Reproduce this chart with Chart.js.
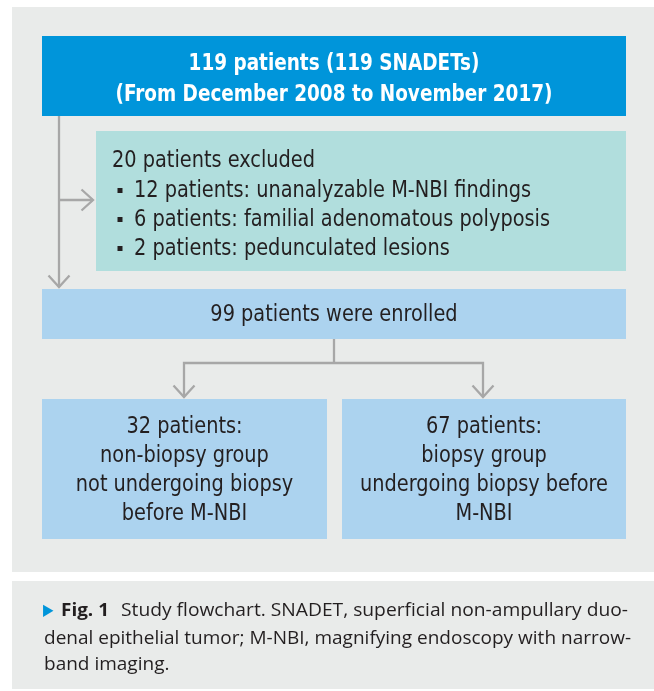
<!DOCTYPE html>
<html>
<head>
<meta charset="utf-8">
<script src="https://cdn.jsdelivr.net/npm/chart.js@4/dist/chart.umd.min.js"></script>
<style>
  html, body { margin: 0; padding: 0; background: #ffffff; }
  #wrap { width: 654px; height: 691px; }
</style>
</head>
<body>
<div id="wrap"><canvas id="flow" width="654" height="691"></canvas></div>
<script>
// ───────── flowchart data ─────────
const topLines = ['119 patients (119 SNADETs)', '(From December 2008 to November 2017)'];
const excludedTitle = '20 patients excluded';
const excludedItems = [
    '12 patients: unanalyzable M-NBI findings',
    '6 patients: familial adenomatous polyposis',
    '2 patients: pedunculated lesions'
];
const enrolledText = '99 patients were enrolled';
const leftGroupLines = ['32 patients:', 'non-biopsy group', 'not undergoing biopsy', 'before M-NBI'];
const rightGroupLines = ['67 patients:', 'biopsy group', 'undergoing biopsy before', 'M-NBI'];
const captionLabel = 'Fig. 1';
const captionLines = [
    'Study flowchart. SNADET, superficial non-ampullary duo-',
    'denal epithelial tumor; M-NBI, magnifying endoscopy with narrow-',
    'band imaging.'
];

// ───────── layout (picture units) ─────────
const C = {
    panel: '#e9ebea', top: '#0095da', teal: '#b1dedd', blue: '#acd3ef',
    line: '#a7a7a7', text: '#231f20', white: '#ffffff'
};
const FONT = '"Liberation Sans Narrow", "DejaVu Sans Condensed", "Liberation Sans", sans-serif';
const CAPFONT = '"Open Sans", "Noto Sans", sans-serif';

const boxes = [
    { x0: 12, y0: 7, x1: 654, y1: 572, color: C.panel },
    { x0: 12, y0: 581, x1: 654, y1: 689, color: C.panel },
    { x0: 42, y0: 36, x1: 626, y1: 116, color: C.top },
    { x0: 96, y0: 131, x1: 626, y1: 271, color: C.teal },
    { x0: 42, y0: 289, x1: 626, y1: 339, color: C.blue },
    { x0: 42, y0: 399, x1: 327, y1: 539, color: C.blue },
    { x0: 342, y0: 399, x1: 626, y1: 539, color: C.blue }
];

// connector paths
const connectors = [
    [{ x: 59, y: 116 }, { x: 59, y: 287 }],
    [{ x: 59, y: 200 }, { x: 93, y: 200 }],
    [{ x: 334, y: 339 }, { x: 334, y: 363 }],
    [{ x: 184, y: 397 }, { x: 184, y: 363 }, { x: 483, y: 363 }, { x: 483, y: 397 }]
];
// arrow tips: position and direction
const arrowTips = [
    { x: 59, y: 287, dir: 'down' },
    { x: 93, y: 200, dir: 'right' },
    { x: 184, y: 397, dir: 'down' },
    { x: 483, y: 397, dir: 'down' }
];

function chevron(t) {
    const a = 10.5, b = 11.5;
    if (t.dir === 'down') return [{ x: t.x - a, y: t.y - b }, { x: t.x, y: t.y }, { x: t.x + a, y: t.y - b }];
    return [{ x: t.x - b, y: t.y - a }, { x: t.x, y: t.y }, { x: t.x - b, y: t.y + a }];
}

const lineStyle = { type: 'line', showLine: true, pointRadius: 0, borderColor: C.line, borderWidth: 2.3, fill: false, tension: 0 };
const datasets = connectors.map(p => ({ ...lineStyle, data: p }))
    .concat(arrowTips.map(t => ({ ...lineStyle, data: chevron(t), borderJoinStyle: 'miter' })));

// 텍스트 폭 맞춤
function fitScale(ctx, font, text, target) {
    ctx.save();
    ctx.font = font;
    const w = ctx.measureText(text).width;
    ctx.restore();
    return target / w;
}

function drawText(ctx, text, x, y, font, color, align, sx) {
    ctx.save();
    ctx.font = font;
    ctx.fillStyle = color;
    ctx.textAlign = align;
    ctx.textBaseline = 'middle';
    ctx.translate(x, y);
    ctx.scale(sx, 1);
    ctx.fillText(text, 0, 0);
    ctx.restore();
}

const flowPlugin = {
    id: 'flowBoxes',
    beforeDatasetsDraw(chart) {
        const { ctx, scales: { x, y } } = chart;
        boxes.forEach(b => {
            const px0 = x.getPixelForValue(b.x0), px1 = x.getPixelForValue(b.x1);
            const py0 = y.getPixelForValue(b.y0), py1 = y.getPixelForValue(b.y1);
            ctx.fillStyle = b.color;
            ctx.fillRect(px0, py0, px1 - px0, py1 - py0);
        });
    },
    afterDatasetsDraw(chart) {
        const { ctx, scales: { x, y } } = chart;
        const X = v => x.getPixelForValue(v), Y = v => y.getPixelForValue(v);

        // 상단 박스
        const boldFont = 'bold 23px ' + FONT;
        const sTop = fitScale(ctx, boldFont, topLines[1], 437);
        drawText(ctx, topLines[0], X(334), Y(64), boldFont, C.white, 'center', sTop);
        drawText(ctx, topLines[1], X(334), Y(95), boldFont, C.white, 'center', sTop);

        // 제외 박스
        const bodyFont = '23px ' + FONT;
        const sBody = fitScale(ctx, bodyFont, excludedItems[1], 416);
        drawText(ctx, excludedTitle, X(112), Y(161), bodyFont, C.text, 'left', sBody);
        excludedItems.forEach((t, i) => {
            const yy = 190 + i * 29;
            ctx.fillStyle = C.text;
            ctx.fillRect(X(117.5), Y(yy - 2), 5, 5);
            drawText(ctx, t, X(134), Y(yy + 1), bodyFont, C.text, 'left', sBody);
        });

        drawText(ctx, enrolledText, X(334), Y(315), bodyFont, C.text, 'center', sBody);

        leftGroupLines.forEach((t, i) => drawText(ctx, t, X(184.5), Y(427 + i * 29), bodyFont, C.text, 'center', sBody));
        rightGroupLines.forEach((t, i) => drawText(ctx, t, X(484), Y(427 + i * 29), bodyFont, C.text, 'center', sBody));

        // 캡션
        const capFont = '18px ' + CAPFONT;
        const capBold = 'bold 18px ' + CAPFONT;
        drawText(ctx, '\u25B6', X(43), Y(611), '16px "DejaVu Sans", sans-serif', C.top, 'left', 0.85);
        const sLabel = fitScale(ctx, capBold, captionLabel, 48);
        drawText(ctx, captionLabel, X(61), Y(611), capBold, C.text, 'left', sLabel);
        const s1 = fitScale(ctx, capFont, captionLines[0], 628 - 121);
        drawText(ctx, captionLines[0], X(121), Y(611), capFont, C.text, 'left', s1);
        const s2 = fitScale(ctx, capFont, captionLines[1], 631 - 44);
        drawText(ctx, captionLines[1], X(44), Y(639), capFont, C.text, 'left', s2);
        drawText(ctx, captionLines[2], X(44), Y(665), capFont, C.text, 'left', s2);
    }
};

new Chart(document.getElementById('flow').getContext('2d'), {
    type: 'scatter',
    data: { datasets },
    options: {
        responsive: false,
        animation: false,
        devicePixelRatio: 1,
        layout: { padding: 0 },
        plugins: { legend: { display: false }, tooltip: { enabled: false } },
        scales: {
            x: { type: 'linear', min: 0, max: 654, display: false },
            y: { type: 'linear', min: 0, max: 691, reverse: true, display: false }
        }
    },
    plugins: [flowPlugin]
});
</script>
</body>
</html>
